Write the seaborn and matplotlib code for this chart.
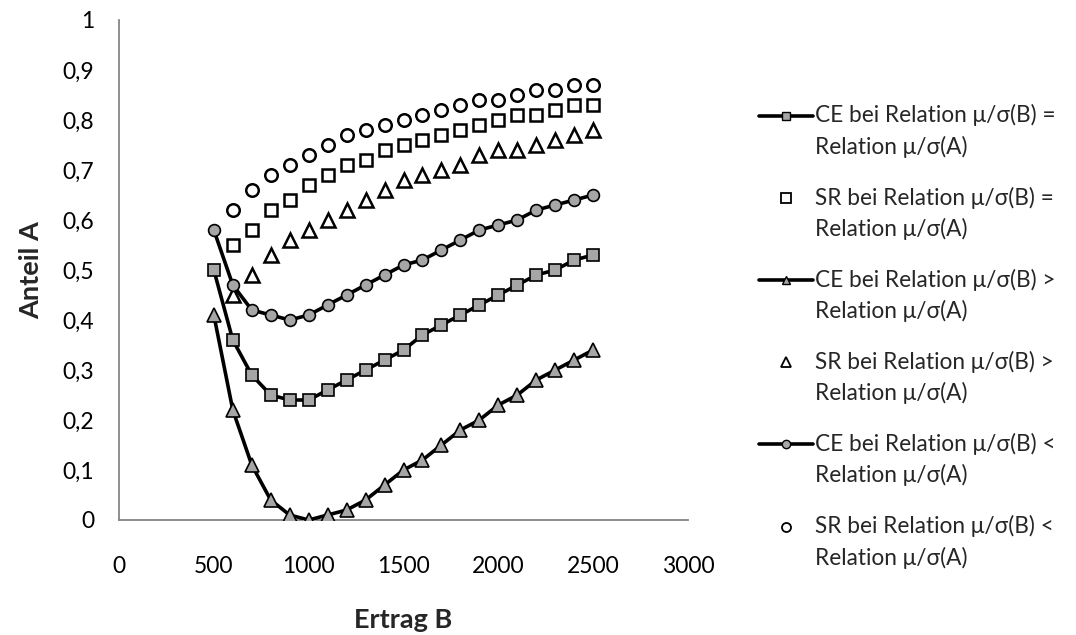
import numpy as np
import matplotlib
matplotlib.use("Agg")
import matplotlib.pyplot as plt
import seaborn as sns
from matplotlib.lines import Line2D
from matplotlib.legend_handler import HandlerLine2D
from matplotlib.ticker import FuncFormatter

# ---- data ----
x_ce = [500, 600, 700, 800, 900, 1000, 1100, 1200, 1300, 1400, 1500,
        1600, 1700, 1800, 1900, 2000, 2100, 2200, 2300, 2400, 2500]
x_sr = x_ce[1:]

ce_eq = [0.50, 0.36, 0.29, 0.25, 0.24, 0.24, 0.26, 0.28, 0.30, 0.32, 0.34,
         0.37, 0.39, 0.41, 0.43, 0.45, 0.47, 0.49, 0.50, 0.52, 0.53]
sr_eq = [0.55, 0.58, 0.62, 0.64, 0.67, 0.69, 0.71, 0.72, 0.74, 0.75,
         0.76, 0.77, 0.78, 0.79, 0.80, 0.81, 0.81, 0.82, 0.83, 0.83]
ce_gt = [0.41, 0.22, 0.11, 0.04, 0.01, 0.00, 0.01, 0.02, 0.04, 0.07, 0.10,
         0.12, 0.15, 0.18, 0.20, 0.23, 0.25, 0.28, 0.30, 0.32, 0.34]
sr_gt = [0.45, 0.49, 0.53, 0.56, 0.58, 0.60, 0.62, 0.64, 0.66, 0.68,
         0.69, 0.70, 0.71, 0.73, 0.74, 0.74, 0.75, 0.76, 0.77, 0.78]
ce_lt = [0.58, 0.47, 0.42, 0.41, 0.40, 0.41, 0.43, 0.45, 0.47, 0.49, 0.51,
         0.52, 0.54, 0.56, 0.58, 0.59, 0.60, 0.62, 0.63, 0.64, 0.65]
sr_lt = [0.62, 0.66, 0.69, 0.71, 0.73, 0.75, 0.77, 0.78, 0.79, 0.80,
         0.81, 0.82, 0.83, 0.84, 0.84, 0.85, 0.86, 0.86, 0.87, 0.87]

labels = [
    "CE bei Relation μ/σ(B) =\nRelation μ/σ(A)",
    "SR bei Relation μ/σ(B) =\nRelation μ/σ(A)",
    "CE bei Relation μ/σ(B) >\nRelation μ/σ(A)",
    "SR bei Relation μ/σ(B) >\nRelation μ/σ(A)",
    "CE bei Relation μ/σ(B) <\nRelation μ/σ(A)",
    "SR bei Relation μ/σ(B) <\nRelation μ/σ(A)",
]
x_ticks = [0, 500, 1000, 1500, 2000, 2500, 3000]
y_ticks = [0, 0.1, 0.2, 0.3, 0.4, 0.5, 0.6, 0.7, 0.8, 0.9, 1.0]

# ---- style ----
sns.set_style("white")
plt.rcParams["font.family"] = ["Lato", "DejaVu Sans"]
GRAY = "#a6a6a6"
AXC = "#868686"

fig = plt.figure(figsize=(10.76, 6.35), dpi=100)
ax = fig.add_axes([119 / 1076, 1 - 520 / 635, 569 / 1076, 500 / 635])

series = [
    ("ce", x_ce, ce_eq, "s", 8),
    ("sr", x_sr, sr_eq, "s", 8),
    ("ce", x_ce, ce_gt, "^", 10),
    ("sr", x_sr, sr_gt, "^", 10),
    ("ce", x_ce, ce_lt, "o", 8.5),
    ("sr", x_sr, sr_lt, "o", 9),
]
for i, (kind, xs, ys, mk, ms) in enumerate(series):
    if kind == "ce":
        sns.lineplot(x=xs, y=ys, ax=ax, color="black", linewidth=2.6,
                     marker=mk, markersize=ms, markerfacecolor=GRAY,
                     markeredgecolor="black", markeredgewidth=1.2,
                     zorder=3 + i)
    else:
        ax.plot(xs, ys, linestyle="none", marker=mk, markersize=ms,
                markerfacecolor="white", markeredgecolor="black",
                markeredgewidth=1.8, zorder=3 + i)

ax.set_xlim(0, 3000)
ax.set_ylim(0, 1)
ax.set_xticks(x_ticks)
ax.set_yticks(y_ticks)
ax.yaxis.set_major_formatter(FuncFormatter(
    lambda v, p: ("%g" % round(v, 1)).replace(".", ",")))
for s in ["top", "right"]:
    ax.spines[s].set_visible(False)
for s in ["left", "bottom"]:
    ax.spines[s].set_color(AXC)
    ax.spines[s].set_linewidth(1.3)
ax.tick_params(axis="both", direction="out", length=7, width=1.3,
               color=AXC, labelsize=16.5, labelcolor="black")
ax.tick_params(axis="y", pad=11)
ax.tick_params(axis="x", pad=19)
ax.set_xlabel("Ertrag B", fontsize=19.5, fontweight="bold", labelpad=22)
ax.set_ylabel("Anteil A", fontsize=19.5, fontweight="bold", labelpad=14)

# ---- legend ----
handles = []
for kind, xs, ys, mk, ms in series:
    if kind == "ce":
        handles.append(Line2D([], [], color="black", linewidth=2.6, marker=mk,
                              markersize=6, markerfacecolor=GRAY,
                              markeredgecolor="black", markeredgewidth=1.0))
    else:
        handles.append(Line2D([], [], linestyle="none", marker=mk,
                              markersize=6.5, markerfacecolor="white",
                              markeredgecolor="black", markeredgewidth=1.3))


class TopHandler(HandlerLine2D):
    def create_artists(self, legend, orig_handle, xdescent, ydescent,
                       width, height, fontsize, trans):
        arts = super().create_artists(legend, orig_handle, xdescent, ydescent,
                                      width, height, fontsize, trans)
        for a in arts:
            a.set_ydata(np.asarray(a.get_ydata()) + 11.5)
        return arts


leg = fig.legend(handles, labels, loc="upper left",
                 bbox_to_anchor=(748 / 1076, 1 - 93 / 635),
                 frameon=False, fontsize=16.3, handlelength=2.35,
                 handletextpad=0.1, labelspacing=1.28, borderpad=0,
                 handler_map={Line2D: TopHandler()})
for t in leg.get_texts():
    t.set_linespacing(1.5)

fig.savefig("out.png", dpi=100)
